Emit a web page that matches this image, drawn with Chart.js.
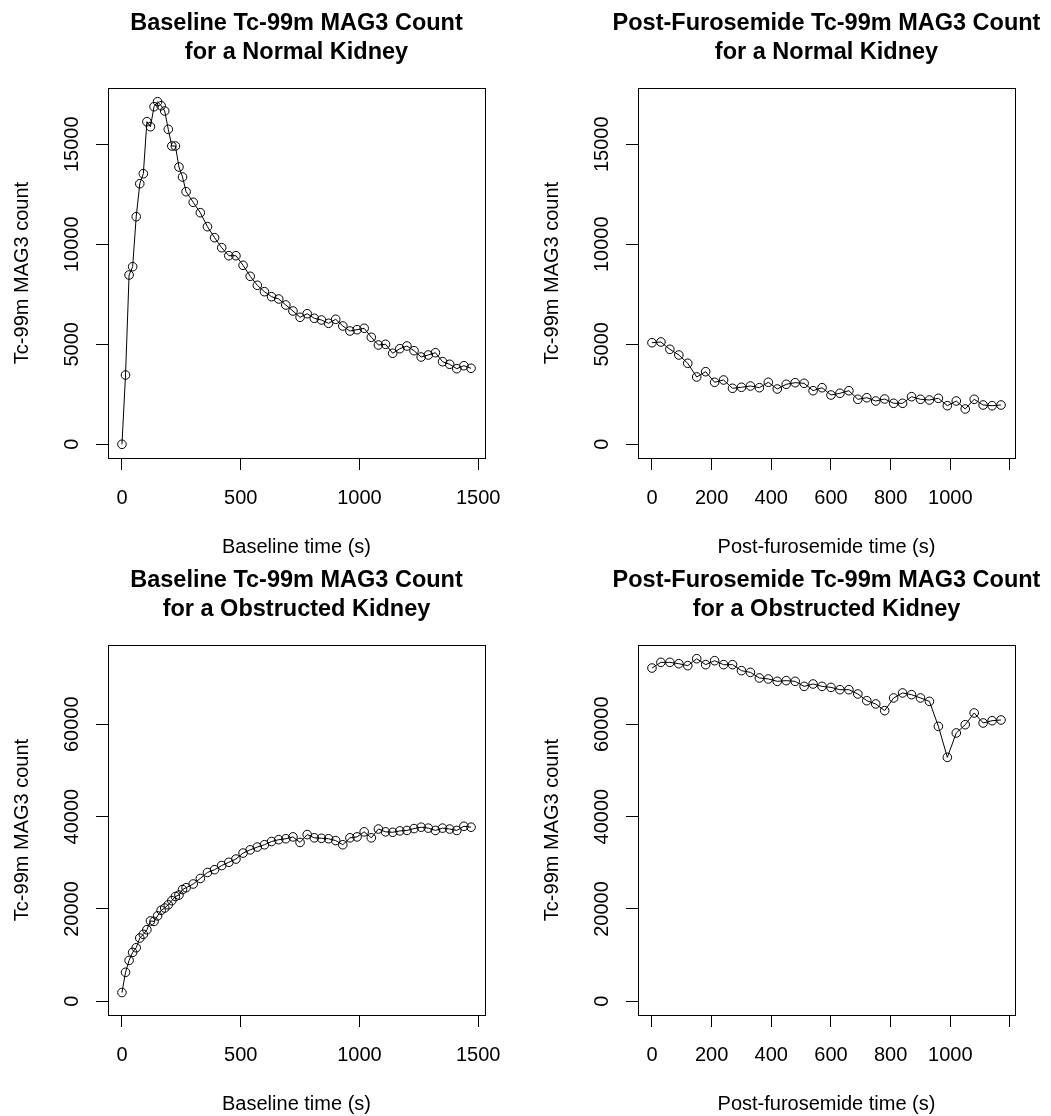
<!DOCTYPE html>
<html>
<head>
<meta charset="utf-8">
<title>Tc-99m MAG3 renogram counts</title>
<script src="https://cdn.jsdelivr.net/npm/chart.js@4.4.1/dist/chart.umd.min.js"></script>
<style>
  html, body { margin: 0; padding: 0; background: #ffffff; }
  body { width: 1051px; height: 1116px; position: relative; overflow: hidden; }
  canvas { position: absolute; }
</style>
</head>
<body>
<canvas id="normalBaselineChart" width="521" height="560" style="left:0px;top:0px"></canvas>
<canvas id="normalPostChart" width="521" height="560" style="left:530px;top:0px"></canvas>
<canvas id="obstructedBaselineChart" width="521" height="560" style="left:0px;top:557px"></canvas>
<canvas id="obstructedPostChart" width="521" height="560" style="left:530px;top:557px"></canvas>
<script>
// Acquisition times (s)
const baselineTime = [0, 15, 30, 45, 60, 75, 90, 105, 120, 135, 150, 165, 180, 195, 210, 225, 240, 255, 270,
  300, 330, 360, 390, 420, 450, 480, 510, 540, 570, 600, 630, 660, 690, 720, 750, 780, 810, 840, 870,
  900, 930, 960, 990, 1020, 1050, 1080, 1110, 1140, 1170, 1200, 1230, 1260, 1290, 1320, 1350, 1380,
  1410, 1440, 1470];
const postTime = [0, 30, 60, 90, 120, 150, 180, 210, 240, 270, 300, 330, 360, 390, 420, 450, 480, 510,
  540, 570, 600, 630, 660, 690, 720, 750, 780, 810, 840, 870, 900, 930, 960, 990, 1020, 1050, 1080,
  1110, 1140, 1170];

// Counts, normal kidney
const normalBaseline = [0, 3465, 8465, 8880, 11380, 13030, 13530, 16130, 15880, 16880, 17130, 16930,
  16665, 15750, 14915, 14915, 13865, 13365, 12630,
  12100, 11580, 10880, 10330, 9830, 9430, 9430, 8950, 8400, 7950,
  7630, 7380, 7265, 6965, 6665, 6350, 6530, 6300, 6215, 6050,
  6250, 5915, 5665, 5730, 5800, 5350, 4965, 5000, 4550, 4780,
  4915, 4680, 4365, 4465, 4580, 4130, 4000, 3780, 3930, 3800];
const normalPost = [5080, 5115, 4750, 4465, 4050, 3365, 3630, 3100, 3215, 2800,
  2850, 2915, 2830, 3100, 2765, 3000, 3080, 3050, 2680, 2830,
  2465, 2550, 2680, 2250, 2330, 2165, 2265, 2050, 2050, 2380,
  2250, 2215, 2300, 1930, 2165, 1765, 2250, 1965, 1930, 1965];

// Counts, obstructed kidney
const obstructedBaseline = [1900, 6280, 8850, 10600, 11600, 13700, 14500, 15500, 17400, 17300, 18500,
  19700, 20200, 20900, 21800, 22700, 23000, 24200, 24600,
  25400, 26600, 27900, 28500, 29400, 30100, 30800, 32100, 32800, 33400,
  33900, 34600, 35000, 35200, 35600, 34400, 36100, 35400, 35300, 35200,
  34800, 33900, 35400, 35600, 36700, 35400, 37300, 36700, 36600, 36900,
  37000, 37400, 37700, 37500, 37000, 37500, 37300, 37000, 37900, 37700];
const obstructedPost = [72170, 73400, 73400, 73110, 72680, 74190, 72900, 73760, 72900, 72900,
  71600, 71230, 70020, 69800, 69290, 69440, 69290, 68200, 68710, 68200,
  67980, 67480, 67480, 66550, 65100, 64390, 62940, 65690, 66770, 66400,
  65690, 64950, 59540, 52830, 58110, 59900, 62440, 60270, 60770, 60920];

// Axis ticks and their labels
const baselineTicks = [0, 500, 1000, 1500];
const baselineTickLabels = ['0', '500', '1000', '1500'];
const postTicks = [0, 200, 400, 600, 800, 1000, 1200];
const postTickLabels = ['0', '200', '400', '600', '800', '1000', ''];
const normalCountTicks = [0, 5000, 10000, 15000];
const obstructedCountTicks = [0, 20000, 40000, 60000];

const FONT = '"Liberation Sans", Arial, Helvetica, sans-serif';
Chart.defaults.font.family = FONT;
Chart.defaults.color = '#000000';

// Plot box around the data region
const frameBox = {
  id: 'frameBox',
  afterDatasetsDraw(chart) {
    const { ctx, chartArea: a } = chart;
    const al = v => Math.round(v - 0.5) + 0.5;
    ctx.save();
    ctx.strokeStyle = '#000000';
    ctx.lineWidth = 1;
    ctx.strokeRect(al(a.left), al(a.top), al(a.right) - al(a.left), al(a.bottom) - al(a.top));
    ctx.restore();
  }
};

// Two-line bold heading, centred over the plot box (may be wider than the box)
const panelHeading = {
  id: 'panelHeading',
  afterDraw(chart, args, opts) {
    const { ctx, chartArea: a } = chart;
    const cx = (a.left + a.right) / 2;
    ctx.save();
    ctx.fillStyle = '#000000';
    ctx.font = 'bold 23.5px ' + FONT;
    ctx.textAlign = 'center';
    ctx.textBaseline = 'middle';
    opts.lines.forEach((line, i) => ctx.fillText(line, cx, opts.firstLineY + i * opts.lineGap));
    ctx.restore();
  }
};

// 4% padding on each side of the data range
function paddedRange(lo, hi) {
  const d = (hi - lo) * 0.04;
  return [lo - d, hi + d];
}

function drawPanel(id, cfg) {
  const points = cfg.x.map((t, i) => ({ x: t, y: cfg.y[i] }));
  const [xMin, xMax] = paddedRange(Math.min(...cfg.x), Math.max(...cfg.x));
  const [yMin, yMax] = paddedRange(0, cfg.yTop);
  const tickFont = { family: FONT, size: 20 };
  const axisLine = { display: true, drawOnChartArea: false, drawTicks: true, tickLength: 12, color: '#000000', lineWidth: 1 };

  new Chart(document.getElementById(id), {
    type: 'scatter',
    data: {
      datasets: [{
        data: points,
        showLine: true,
        tension: 0,
        borderColor: '#000000',
        borderWidth: 1,
        pointStyle: 'circle',
        pointRadius: 4.3,
        pointBorderWidth: 1,
        pointBorderColor: '#000000',
        pointBackgroundColor: 'rgba(0,0,0,0)'
      }]
    },
    options: {
      responsive: false,
      animation: false,
      events: [],
      layout: { padding: { top: 88, left: 0, right: 36, bottom: 1 } },
      plugins: {
        legend: { display: false },
        tooltip: { enabled: false },
        title: { display: false },
        panelHeading: { lines: cfg.title, firstLineY: 24, lineGap: 28.2 }
      },
      scales: {
        x: {
          type: 'linear',
          position: 'bottom',
          min: xMin,
          max: xMax,
          afterBuildTicks: s => { s.ticks = cfg.xTicks.map(v => ({ value: v })); },
          afterFit: s => { s.height = 101; },
          ticks: {
            autoSkip: false,
            maxRotation: 0,
            minRotation: 0,
            padding: 16,
            font: tickFont,
            color: '#000000',
            callback: v => cfg.xTickLabels[cfg.xTicks.indexOf(v)]
          },
          grid: axisLine,
          border: { display: true, color: '#000000', width: 1 },
          title: {
            display: true,
            text: cfg.xTitle,
            color: '#000000',
            font: { family: FONT, size: 20 },
            padding: { top: 0, bottom: 0 }
          }
        },
        y: {
          type: 'linear',
          position: 'left',
          min: yMin,
          max: yMax,
          afterBuildTicks: s => { s.ticks = cfg.yTicks.map(v => ({ value: v })); },
          afterFit: s => { s.width = 108; },
          ticks: {
            autoSkip: false,
            minRotation: 90,
            maxRotation: 90,
            crossAlign: 'center',
            padding: -3.8,
            font: tickFont,
            color: '#000000',
            callback: v => String(v)
          },
          grid: axisLine,
          border: { display: true, color: '#000000', width: 1 },
          title: {
            display: true,
            text: 'Tc-99m MAG3 count',
            color: '#000000',
            font: { family: FONT, size: 20 },
            padding: { top: 10, bottom: 0 }
          }
        }
      }
    },
    plugins: [frameBox, panelHeading]
  });
}

const normalTop = Math.max(...normalBaseline, ...normalPost);
const obstructedTop = Math.max(...obstructedBaseline, ...obstructedPost);

drawPanel('normalBaselineChart', {
  x: baselineTime, y: normalBaseline, yTop: normalTop,
  xTicks: baselineTicks, xTickLabels: baselineTickLabels, yTicks: normalCountTicks,
  title: ['Baseline Tc-99m MAG3 Count', 'for a Normal Kidney'],
  xTitle: 'Baseline time (s)'
});
drawPanel('normalPostChart', {
  x: postTime, y: normalPost, yTop: normalTop,
  xTicks: postTicks, xTickLabels: postTickLabels, yTicks: normalCountTicks,
  title: ['Post-Furosemide Tc-99m MAG3 Count', 'for a Normal Kidney'],
  xTitle: 'Post-furosemide time (s)'
});
drawPanel('obstructedBaselineChart', {
  x: baselineTime, y: obstructedBaseline, yTop: obstructedTop,
  xTicks: baselineTicks, xTickLabels: baselineTickLabels, yTicks: obstructedCountTicks,
  title: ['Baseline Tc-99m MAG3 Count', 'for a Obstructed Kidney'],
  xTitle: 'Baseline time (s)'
});
drawPanel('obstructedPostChart', {
  x: postTime, y: obstructedPost, yTop: obstructedTop,
  xTicks: postTicks, xTickLabels: postTickLabels, yTicks: obstructedCountTicks,
  title: ['Post-Furosemide Tc-99m MAG3 Count', 'for a Obstructed Kidney'],
  xTitle: 'Post-furosemide time (s)'
});
</script>
</body>
</html>
